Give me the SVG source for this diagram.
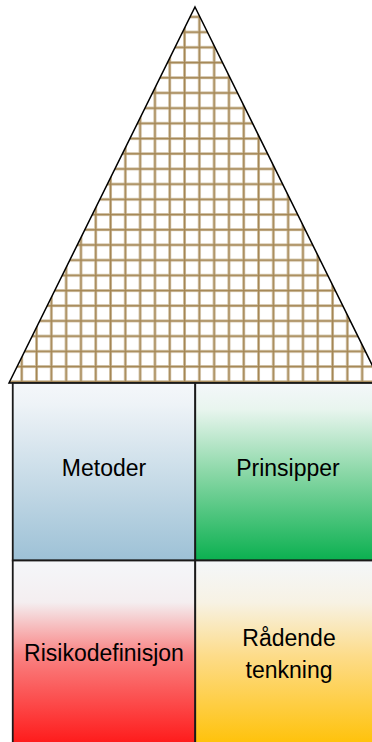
<svg xmlns="http://www.w3.org/2000/svg" width="372" height="742" viewBox="0 0 372 742">
<style>
.lbl{font-family:"Liberation Sans",Arial,sans-serif;font-size:23px;fill:#000;text-anchor:middle}
.box{stroke:#1a1a1a;stroke-width:1.8}
</style>
<defs>
<pattern id="grid" patternUnits="userSpaceOnUse" x="20.2" y="380.2" width="14.8" height="15.2">
<rect x="0" y="0" width="14.8" height="15.2" fill="#ffffff"/>
<rect x="0" y="0" width="3" height="15.2" fill="#d9ccb3"/>
<rect x="0" y="0" width="14.8" height="3" fill="#d9ccb3"/>
<rect x="0.8" y="0" width="1.6" height="15.2" fill="#a48654"/>
<rect x="0" y="0.8" width="14.8" height="1.6" fill="#a48654"/>
</pattern>
<linearGradient id="gBlue" x1="0" y1="0" x2="0" y2="1">
<stop offset="0" stop-color="#f4f7fa"/>
<stop offset="0.12" stop-color="#eef3f7"/>
<stop offset="1" stop-color="#9dc1d6"/>
</linearGradient>
<linearGradient id="gGreen" x1="0" y1="0" x2="0" y2="1">
<stop offset="0" stop-color="#f4f7fa"/>
<stop offset="0.15" stop-color="#e8f5ee"/>
<stop offset="0.5" stop-color="#8cd8a8"/>
<stop offset="1" stop-color="#0bb050"/>
</linearGradient>
<linearGradient id="gRed" x1="0" y1="0" x2="0" y2="1">
<stop offset="0" stop-color="#f4f7fa"/>
<stop offset="0.22" stop-color="#f4eef0"/>
<stop offset="0.5" stop-color="#f98282"/>
<stop offset="1" stop-color="#ff1212"/>
</linearGradient>
<linearGradient id="gYellow" x1="0" y1="0" x2="0" y2="1">
<stop offset="0" stop-color="#f4f7fa"/>
<stop offset="0.22" stop-color="#f7f2e4"/>
<stop offset="0.5" stop-color="#fddc8a"/>
<stop offset="1" stop-color="#ffc000"/>
</linearGradient>
</defs>
<rect width="372" height="742" fill="#ffffff"/>
<g id="roof">
<polygon points="195,7 381,383 9,383" fill="url(#grid)" stroke="#000" stroke-width="1.5" stroke-linejoin="miter"/>
</g>
<g id="metoder">
<rect class="box" x="12.75" y="383" width="182.5" height="177.5" fill="url(#gBlue)"/>
<text class="lbl" x="104" y="476">Metoder</text>
</g>
<g id="prinsipper">
<rect class="box" x="195.25" y="383" width="190" height="177.5" fill="url(#gGreen)"/>
<text class="lbl" x="288" y="476">Prinsipper</text>
</g>
<g id="risikodefinisjon">
<rect class="box" x="12.75" y="560.5" width="182.5" height="190" fill="url(#gRed)"/>
<text class="lbl" x="104" y="661">Risikodefinisjon</text>
</g>
<g id="radende">
<rect class="box" x="195.25" y="560.5" width="190" height="190" fill="url(#gYellow)"/>
<text class="lbl" x="289" y="646">Rådende</text>
<text class="lbl" x="289" y="678">tenkning</text>
</g>
<g id="connectors"></g>
</svg>
